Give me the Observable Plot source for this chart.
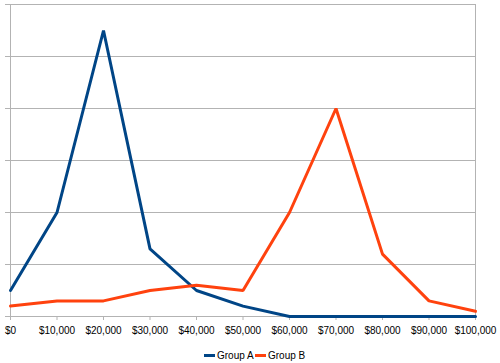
<!DOCTYPE html>
<html>
<head>
<meta charset="utf-8">
<script src="https://cdn.jsdelivr.net/npm/d3@7"></script>
<script src="https://cdn.jsdelivr.net/npm/@observablehq/plot@0.6"></script>
<style>
  body { margin: 0; background: #fff; font-family: "Liberation Sans", Arial, sans-serif; }
  #chart { width: 500px; height: 363px; position: relative; }
  #chart svg { font-family: "Liberation Sans", Arial, sans-serif; }
  .legend { position: absolute; top: 347px; left: 0; width: 500px; height: 16px; font-size: 10px; color: #000; }
  .item { position: absolute; top: 0; display: flex; align-items: center; height: 16px; }
  .sw { display: inline-block; width: 11px; height: 3px; margin-right: 2px; }
</style>
</head>
<body>
<div id="chart"></div>
<script>
const incomes = [0, 10000, 20000, 30000, 40000, 50000, 60000, 70000, 80000, 90000, 100000];
const groupA = [5, 20, 55, 13, 5, 2, 0, 0, 0, 0, 0];
const groupB = [2, 3, 3, 5, 6, 5, 20, 40, 12, 3, 1];
const seriesNames = ["Group A", "Group B"];
const seriesColors = ["#004586", "#ff420e"];
const yTicks = [0, 10, 20, 30, 40, 50, 60];

const rowsA = incomes.map((x, i) => ({x, y: groupA[i]}));
const rowsB = incomes.map((x, i) => ({x, y: groupB[i]}));

const fmt = d => "$" + d3.format(",")(d);

const plot = Plot.plot({
  width: 500,
  height: 340,
  marginLeft: 10,
  marginRight: 25,
  marginTop: 4,
  marginBottom: 24,
  style: {fontFamily: "'Liberation Sans', Arial, sans-serif", fontSize: "10px", color: "#000", background: "#fff"},
  x: {domain: [0, 100000], label: null},
  y: {domain: [0, 60], label: null},
  marks: [
    Plot.ruleY(yTicks, {stroke: "#b3b3b3", strokeWidth: 1}),
    Plot.ruleX([0, 100000], {stroke: "#b3b3b3", strokeWidth: 1}),
    Plot.axisY(yTicks, {tickSize: 5, tickFormat: () => "", label: null, stroke: "#b3b3b3", strokeOpacity: 1}),
    Plot.axisX(incomes, {tickSize: 4, tickPadding: 6, tickFormat: fmt, label: null, stroke: "#b3b3b3", strokeOpacity: 1, fill: "#000", fontSize: 10}),
    Plot.line(rowsA, {x: "x", y: "y", stroke: seriesColors[0], strokeWidth: 3, strokeLinejoin: "miter"}),
    Plot.line(rowsB, {x: "x", y: "y", stroke: seriesColors[1], strokeWidth: 3, strokeLinejoin: "miter"})
  ]
});

const chart = document.getElementById("chart");
chart.appendChild(plot);

const legend = document.createElement("div");
legend.className = "legend";
const lefts = [204, 255];
seriesNames.forEach((name, i) => {
  const item = document.createElement("div");
  item.className = "item";
  item.style.left = lefts[i] + "px";
  const sw = document.createElement("span");
  sw.className = "sw";
  sw.style.background = seriesColors[i];
  const t = document.createElement("span");
  t.textContent = name;
  item.appendChild(sw);
  item.appendChild(t);
  legend.appendChild(item);
});
chart.appendChild(legend);
</script>
</body>
</html>
